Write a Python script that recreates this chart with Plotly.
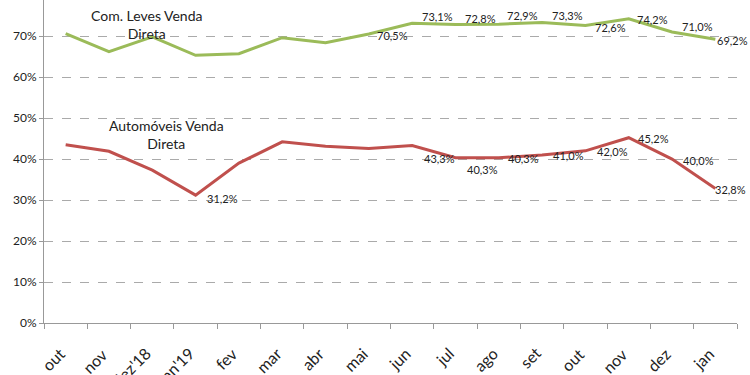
import plotly.graph_objects as go

months = ["out", "nov", "dez'18", "jan'19", "fev", "mar", "abr", "mai",
          "jun", "jul", "ago", "set", "out ", "nov ", "dez", "jan"]
com_leves = [70.6, 66.2, 69.8, 65.3, 65.7, 69.6, 68.4, 70.5,
             73.1, 72.8, 72.9, 73.3, 72.6, 74.2, 71.0, 69.2]
automoveis = [43.5, 41.9, 37.3, 31.2, 39.0, 44.2, 43.1, 42.6,
              43.3, 40.3, 40.3, 41.0, 42.0, 45.2, 40.0, 32.8]
green_labels = [7, 8, 9, 10, 11, 12, 13, 14, 15]
red_labels = [3, 8, 9, 10, 11, 12, 13, 14, 15]
# label offsets (pixels)
green_dx = {7: 24, 8: 25, 9: 25, 10: 24, 11: 25, 12: 25, 13: 24, 14: 25, 15: 17}
green_dy = {7: -1, 8: 7, 9: 6, 10: 9, 11: 7, 12: -2, 13: -1, 14: 5, 15: -1}
red_dx = {3: 27, 8: 27, 9: 27, 10: 25, 11: 26, 12: 27, 13: 25, 14: 26, 15: 15}
red_dy = {3: -3, 8: -13, 9: -12, 10: -1, 11: -1, 12: -1, 13: -1, 14: -1, 15: -1}

GREEN = "#9BBB59"
RED = "#C0504D"
FONT = "Lato, Carlito, sans-serif"

fig = go.Figure()
fig.add_trace(go.Scatter(x=months, y=[v / 100 for v in com_leves], mode="lines",
                         line=dict(color=GREEN, width=3), name="Com. Leves Venda Direta"))
fig.add_trace(go.Scatter(x=months, y=[v / 100 for v in automoveis], mode="lines",
                         line=dict(color=RED, width=3), name="Automóveis Venda Direta"))

def fmt(v):
    return f"{v:.1f}".replace(".", ",") + "%"

annotations = []
for i in green_labels:
    annotations.append(dict(x=months[i], y=com_leves[i] / 100, text=fmt(com_leves[i]),
                            showarrow=False, xshift=green_dx[i], yshift=green_dy[i],
                            xanchor="center", yanchor="middle",
                            font=dict(size=11, color="#222", family=FONT)))
for i in red_labels:
    annotations.append(dict(x=months[i], y=automoveis[i] / 100, text=fmt(automoveis[i]),
                            showarrow=False, xshift=red_dx[i], yshift=red_dy[i],
                            xanchor="center", yanchor="middle",
                            font=dict(size=11, color="#222", family=FONT)))
# rotated category labels (Excel style placement)
for m in months:
    annotations.append(dict(x=m, xref="x", y=0, yref="paper", text=m.strip(),
                            showarrow=False, textangle=-45,
                            xanchor="right", yanchor="top", xshift=5, yshift=-18,
                            font=dict(size=16, color="#222", family=FONT)))
annotations.append(dict(xref="paper", yref="paper", x=(147 - 44) / 693, y=1 - 24.5 / 323,
                        xanchor="center", yanchor="middle", align="center",
                        text="Com. Leves Venda<br>Direta", showarrow=False,
                        font=dict(size=14, color="#222", family=FONT)))
annotations.append(dict(xref="paper", yref="paper", x=(166 - 44) / 693, y=1 - 135 / 323,
                        xanchor="center", yanchor="middle", align="center",
                        text="Automóveis Venda<br>Direta", showarrow=False,
                        font=dict(size=14, color="#222", family=FONT)))

fig.update_layout(
    width=750, height=375,
    margin=dict(l=44, r=13, t=0, b=52),
    paper_bgcolor="white", plot_bgcolor="white",
    showlegend=False,
    annotations=annotations,
    font=dict(family=FONT, color="#222"),
    hovermode=False,
)
fig.update_xaxes(
    type="category", tickson="boundaries", range=[-0.5, len(months) - 0.5],
    autorange=False,
    ticks="outside", ticklen=5, tickcolor="#999",
    showline=True, linecolor="#999", linewidth=1,
    showgrid=False, automargin=False, showticklabels=False,
)
fig.update_yaxes(
    range=[0, 0.788], autorange=False, dtick=0.1, tickformat=".0%",
    showgrid=True, gridcolor="#aaa", griddash="dash", gridwidth=1,
    showline=True, linecolor="#999", linewidth=1,
    ticks="outside", ticklen=4, tickcolor="#999",
    zeroline=False, automargin=False,
    tickfont=dict(size=12, family=FONT, color="#222"),
)
fig.write_html("out.html", config={"displayModeBar": False},
               post_script="document.body.style.margin='0';document.body.style.overflow='hidden';")
